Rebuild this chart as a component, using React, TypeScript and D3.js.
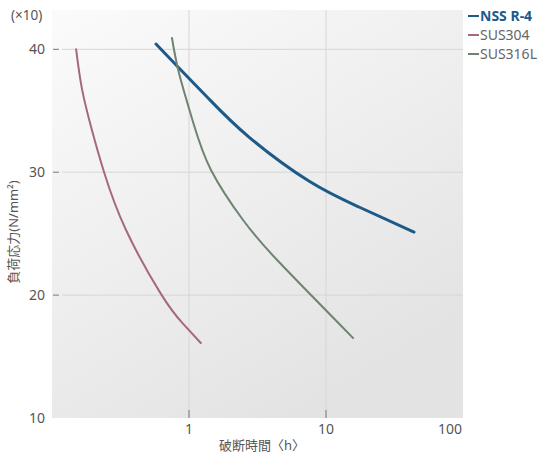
import * as d3 from "d3";

type Pt = { t: number; v: number };

// rupture time (h) vs load stress (x10 N/mm2)
const nssR4: Pt[] = [
  { t: 0.574, v: 40.43 },
  { t: 0.845, v: 38.48 },
  { t: 1.4, v: 35.96 },
  { t: 2.74, v: 32.86 },
  { t: 7.5, v: 29.28 },
  { t: 17.4, v: 27.17 },
  { t: 43.9, v: 25.13 },
];
const sus304: Pt[] = [
  { t: 0.15, v: 40 },
  { t: 0.166, v: 36.7 },
  { t: 0.196, v: 33.4 },
  { t: 0.24, v: 30 },
  { t: 0.347, v: 25.3 },
  { t: 0.632, v: 20 },
  { t: 0.9, v: 17.7 },
  { t: 1.22, v: 16.1 },
];
const sus316L: Pt[] = [
  { t: 0.751, v: 40.92 },
  { t: 0.845, v: 38.07 },
  { t: 1.07, v: 34.09 },
  { t: 1.447, v: 30.18 },
  { t: 2.48, v: 26.11 },
  { t: 4.54, v: 22.69 },
  { t: 15.76, v: 16.51 },
];

const series = [
  { name: "NSS R-4", data: nssR4, color: "#1d5a88", width: 3, bold: true },
  { name: "SUS304", data: sus304, color: "#a4697f", width: 2, bold: false },
  { name: "SUS316L", data: sus316L, color: "#6e8370", width: 2, bold: false },
];

const xTicks = [1, 10, 100];
const yTicks = [10, 20, 30, 40];

const W = 557;
const H = 455;
const left = 52;
const right = 463;
const top = 10;
const bottom = 418;
const font = "'Noto Sans', 'Noto Sans CJK JP', sans-serif";

export default function App() {
  const x = d3.scaleLog().domain([0.1, 100]).range([left, right]);
  const y = d3.scaleLinear().domain([10, 43.2]).range([bottom, top]);

  const line = d3
    .line<Pt>()
    .x((d) => x(d.t))
    .y((d) => y(d.v))
    .curve(d3.curveNatural);

  return (
    <svg
      width={W}
      height={H}
      style={{ position: "absolute", left: 0, top: 0, background: "#fff" }}
      fontFamily={font}
    >
      <defs>
        <linearGradient id="bg" x1="0" y1="0" x2="0.6" y2="1">
          <stop offset="0" stopColor="#fbfbfb" />
          <stop offset="1" stopColor="#e3e3e3" />
        </linearGradient>
      </defs>
      <rect x={left} y={top} width={right - left} height={bottom - top} fill="url(#bg)" />

      {/* grid */}
      {yTicks
        .filter((v) => v > 10)
        .map((v) => (
          <g key={"y" + v}>
            <line x1={62} x2={right} y1={y(v)} y2={y(v)} stroke="#d6d6d6" strokeWidth={1} />
            <line x1={53} x2={59} y1={y(v)} y2={y(v)} stroke="#777" strokeWidth={1} />
          </g>
        ))}
      {xTicks
        .filter((t) => t < 100)
        .map((t) => (
          <g key={"x" + t}>
            <line x1={x(t)} x2={x(t)} y1={top} y2={bottom} stroke="#d6d6d6" strokeWidth={1} />
            <line x1={x(t)} x2={x(t)} y1={bottom - 8} y2={bottom} stroke="#777" strokeWidth={1} />
          </g>
        ))}

      {/* tick labels */}
      {yTicks.map((v) => (
        <text
          key={"yl" + v}
          x={45}
          y={y(v)}
          dy="0.35em"
          textAnchor="end"
          fontSize={14}
          fill="#555"
        >
          {v}
        </text>
      ))}
      {xTicks.map((t) => (
        <text
          key={"xl" + t}
          x={t === 100 ? right - 1 : x(t)}
          y={434}
          textAnchor={t === 100 ? "end" : "middle"}
          fontSize={14}
          fill="#555"
        >
          {t}
        </text>
      ))}

      <text x={11} y={20} fontSize={13.5} fill="#555">
        (×10)
      </text>
      <text
        transform={`translate(18, ${(top + bottom) / 2 + 18}) rotate(-90)`}
        textAnchor="middle"
        fontSize={13}
        fill="#555"
      >
        負荷応力(N/mm²)
      </text>
      <text x={262} y={450} textAnchor="middle" fontSize={13} fill="#555">
        破断時間〈h〉
      </text>

      {/* curves */}
      {series.map((s) => (
        <path
          key={s.name}
          d={line(s.data) ?? ""}
          fill="none"
          stroke={s.color}
          strokeWidth={s.width}
          strokeLinecap="round"
        />
      ))}

      {/* legend */}
      {series.map((s, i) => (
        <g key={"lg" + s.name} transform={`translate(468, ${16 + i * 19})`}>
          <line x1={0} x2={11} y1={0} y2={0} stroke={s.color} strokeWidth={2} />
          <text
            x={12}
            y={0}
            dy="0.35em"
            fontSize={14}
            fontWeight={s.bold ? "bold" : "normal"}
            fill={s.bold ? s.color : "#666"}
          >
            {s.name}
          </text>
        </g>
      ))}
    </svg>
  );
}
